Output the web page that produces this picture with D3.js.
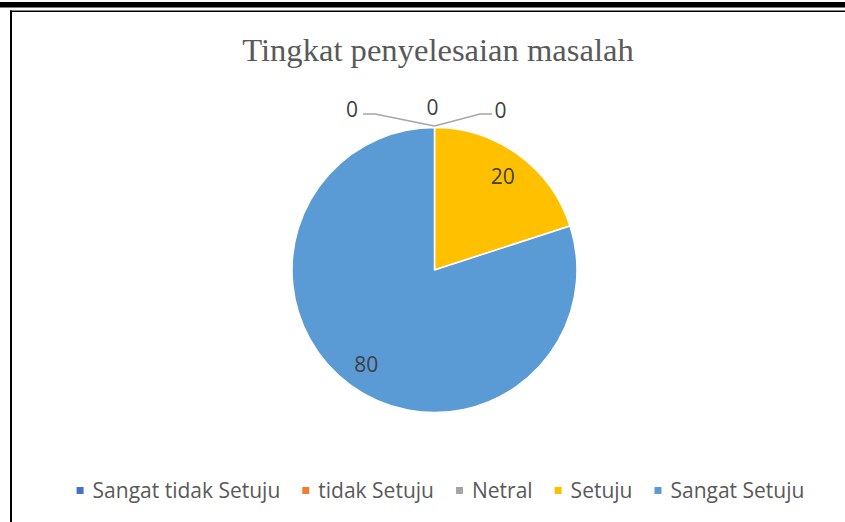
<!DOCTYPE html>
<html><head><meta charset="utf-8">
<script src="https://cdn.jsdelivr.net/npm/d3@7"></script>
<style>html,body{margin:0;padding:0;background:#fff;}svg{display:block;}</style>
</head><body>
<svg id="chart" width="845" height="522"></svg>
<script>
const categories = ["Sangat tidak Setuju", "tidak Setuju", "Netral", "Setuju", "Sangat Setuju"];
const values = [0, 0, 0, 20, 80];
const colors = ["#4472C4", "#ED7D31", "#A5A5A5", "#FFC000", "#5B9BD5"];
const title = "Tingkat penyelesaian masalah";

const W = 845, H = 522;
const svg = d3.select("#chart");
svg.append("rect").attr("width", W).attr("height", H).attr("fill", "#fff");

// page frame (document borders)
svg.append("rect").attr("x", 0).attr("y", 2).attr("width", W).attr("height", 5.5).attr("fill", "#000");
svg.append("line").attr("x1", 10).attr("x2", W).attr("y1", 11.2).attr("y2", 11.2).attr("stroke", "#000").attr("stroke-width", 1.5);
svg.append("line").attr("x1", 11).attr("x2", 11).attr("y1", 10.5).attr("y2", H).attr("stroke", "#000").attr("stroke-width", 2);

// title
svg.append("text").attr("x", 438).attr("y", 60.5).attr("text-anchor", "middle")
  .attr("font-family", "'Liberation Serif', 'Times New Roman', serif").attr("font-size", 32.6)
  .attr("fill", "#595959").text(title);

const cx = 434.5, cy = 270, R = 142.5;
const g = svg.append("g").attr("transform", `translate(${cx},${cy})`);
const pie = d3.pie().sort(null).value(d => d)(values);
const arc = d3.arc().innerRadius(0).outerRadius(R);
const labelArc = d3.arc().innerRadius(R * 0.815).outerRadius(R * 0.815);

g.selectAll("path.slice").data(pie).join("path").attr("class", "slice")
  .attr("d", arc).attr("fill", (d, i) => colors[i])
  .attr("stroke", "#fff").attr("stroke-width", 1.5).attr("stroke-linejoin", "round");

// labels for non-zero slices
const font = "'Open Sans', 'Noto Sans', sans-serif";
pie.forEach((d, i) => {
  if (d.value > 0) {
    const [x, y] = labelArc.centroid(d);
    g.append("text").attr("x", x).attr("y", y).attr("dy", "0.36em").attr("text-anchor", "middle")
      .attr("font-family", font).attr("font-size", 21).attr("fill", "#404040").text(d.value);
  }
});

// zero labels placed outside with leader lines (layout offsets relative to pie top)
const zeroOffsets = [[-82.5, -18], [-2, -20.5], [66, -17]];
const leaderPts = [
  [[-71.5, -12], [-59.5, -12], [0, 0]],
  null,
  [[0, 0], [45.5, -12], [57.5, -12]]
];
let zi = 0;
pie.forEach((d, i) => {
  if (d.value === 0) {
    const a = (d.startAngle + d.endAngle) / 2;
    const px = R * Math.sin(a), py = -R * Math.cos(a);
    const off = zeroOffsets[zi];
    g.append("text").attr("x", px + off[0]).attr("y", py + off[1]).attr("dy", "0.36em")
      .attr("text-anchor", "middle").attr("font-family", font).attr("font-size", 21)
      .attr("fill", "#404040").text(d.value);
    const lp = leaderPts[zi];
    if (lp) {
      g.append("path").attr("d", d3.line()(lp.map(p => [px + p[0], py + p[1] - 1.5])))
        .attr("fill", "none").attr("stroke", "#A6A6A6").attr("stroke-width", 1.5);
    }
    zi++;
  }
});

// legend
const lg = svg.append("g");
const items = categories.map((c, i) => {
  const it = lg.append("g");
  it.append("rect").attr("x", 0).attr("y", -11).attr("width", 7).attr("height", 7).attr("fill", colors[i]);
  const t = it.append("text").attr("x", 16).attr("y", 0).attr("font-family", font).attr("font-size", 21)
    .attr("fill", "#595959").text(c);
  return { it, w: 16 + t.node().getComputedTextLength() };
});
const gap = 22;
const total = d3.sum(items, d => d.w) + gap * (items.length - 1);
let x0 = 440.5 - total / 2;
items.forEach(d => { d.it.attr("transform", `translate(${x0},498)`); x0 += d.w + gap; });
</script>
</body></html>
